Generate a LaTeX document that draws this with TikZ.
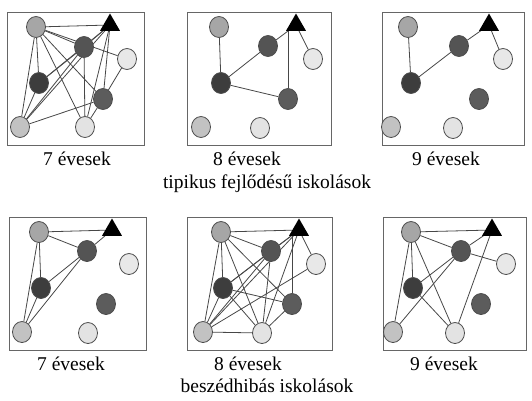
\documentclass[tikz,border=0pt]{standalone}
\usepackage{fontspec}
\setmainfont{Liberation Serif}
\usetikzlibrary{shapes.geometric,backgrounds}
\tikzset{
  kid/.style={draw=black!70,line width=0.8pt,ellipse,inner sep=0pt,minimum width=19pt,minimum height=21pt},
  teacher/.style={fill=black,regular polygon,regular polygon sides=3,inner sep=0pt,outer sep=0pt,minimum size=23pt},
  tie/.style={black!72,line width=0.8pt},
  panel/.style={draw=black!60,line width=0.8pt},
  caption/.style={anchor=base,inner sep=0pt,font=\fontsize{19.5}{23}\selectfont}
}
% one class: seven children and the teacher
\newcommand\kids[9]{%
  \node[kid,fill=black!35] (#1a) at #2 {};
  \node[teacher] (#1t) at #3 {};
  \node[kid,fill=black!67] (#1b) at #4 {};
  \node[kid,fill=black!9] (#1c) at #5 {};
  \node[kid,fill=black!76] (#1d) at #6 {};
  \node[kid,fill=black!64] (#1e) at #7 {};
  \node[kid,fill=black!24] (#1f) at #8 {};
  \node[kid,fill=black!11] (#1g) at #9 {};
}
\begin{document}
\begin{tikzpicture}[x=1pt,y=-1pt]
  \useasboundingbox (0,0) rectangle (532,400);
  % frames
  \draw[panel] (7,12) rectangle (144,145);
  \draw[panel] (187,12) rectangle (331,145);
  \draw[panel] (382,12) rectangle (524,145);
  \draw[panel] (9,217) rectangle (146,350);
  \draw[panel] (187,217) rectangle (332,350);
  \draw[panel] (383,217) rectangle (526,350);
  % children
  \kids{p1}{(36,27)}{(110,25)}{(84,47)}{(127,59)}{(39,83)}{(103,99)}{(20,127)}{(85,127)}
  \kids{p2}{(219,27)}{(296,25)}{(268,46)}{(313,59)}{(221,83)}{(288,99)}{(201,127)}{(260,128)}
  \kids{p3}{(408,27)}{(489,25)}{(459,46)}{(503,59)}{(411,83)}{(479,99)}{(391,127)}{(453,128)}
  \kids{p4}{(39,232)}{(112,230)}{(87,251)}{(129,264)}{(41,288)}{(106,304)}{(22,332)}{(88,333)}
  \kids{p5}{(221,232)}{(299,230)}{(271,251)}{(316,264)}{(223,288)}{(292,304)}{(203,332)}{(262,333)}
  \kids{p6}{(411,232)}{(492,230)}{(461,251)}{(506,264)}{(413,288)}{(481,304)}{(393,332)}{(455,333)}
  % ties
  \begin{scope}[on background layer]
    \foreach \u/\v in {a/t,a/d,a/f,a/b,a/c,a/e,a/g,t/b,t/d,t/f,t/e,t/g,b/d,b/f,b/g,d/f,c/e,e/f,e/g}
      \draw[tie] (p1\u) -- (p1\v);
    \foreach \u/\v in {a/d,d/b,b/t,t/c,d/e}
      \draw[tie] (p2\u) -- (p2\v);
    \draw[tie] (p2e.north) -- (p2e.north |- p2t.south);
    \foreach \u/\v in {a/d,d/b,b/t,t/c}
      \draw[tie] (p3\u) -- (p3\v);
    \foreach \u/\v in {a/t,a/b,a/d,a/f,b/t,b/d,b/f,d/f}
      \draw[tie] (p4\u) -- (p4\v);
    \foreach \u/\v in {a/t,a/d,a/f,a/b,a/g,a/e,t/b,t/d,t/c,t/f,t/g,b/d,b/f,b/g,d/e,d/f,d/g,f/g,f/c,g/e}
      \draw[tie] (p5\u) -- (p5\v);
    \draw[tie] (p5e.north) -- (p5e.north |- p5t.south);
    \foreach \u/\v in {a/t,a/b,a/d,a/f,a/g,b/t,b/c,b/d,b/f,d/g,g/t}
      \draw[tie] (p6\u) -- (p6\v);
  \end{scope}
  % captions
  \node[caption] (age7t) at (77,165) {7 évesek};
  \node[caption] (age8t) at (247,165) {8 évesek};
  \node[caption] (age9t) at (446,165) {9 évesek};
  \node[caption] (typical) at (267,188) {tipikus fejlődésű iskolások};
  \node[caption] (age7s) at (71,370) {7 évesek};
  \node[caption] (age8s) at (248,370) {8 évesek};
  \node[caption] (age9s) at (444,370) {9 évesek};
  \node[caption] (speech) at (267,392) {beszédhibás iskolások};
\end{tikzpicture}
\end{document}
